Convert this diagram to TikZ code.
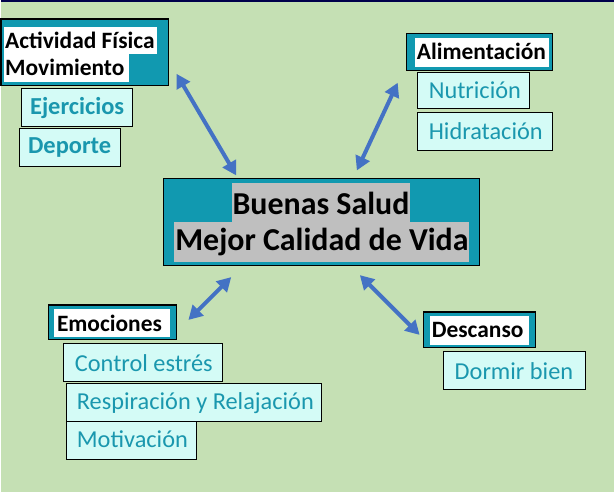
\documentclass[tikz,border=0pt]{standalone}
\usepackage{fontspec}
\setmainfont{Carlito}
\usetikzlibrary{arrows.meta}
\definecolor{bg}{HTML}{C5E0B4}
\definecolor{teal1}{HTML}{1199B0}
\definecolor{cyan1}{HTML}{D4FBF6}
\definecolor{tx}{HTML}{1A97AE}
\definecolor{arr}{HTML}{4472C4}
\definecolor{hl}{HTML}{BFBFBF}
\begin{document}
\begin{tikzpicture}[x=1pt,y=-1pt,
 tealbox/.style={draw=black,line width=1.2pt,fill=teal1},
 subbox/.style={draw=black,line width=0.8pt,fill=cyan1},
 lab/.style={font=\fontsize{23.5}{23.5}\selectfont\bfseries,text=black,anchor=west,inner sep=0pt},
 sub/.style={font=\fontsize{24.4}{24.4}\selectfont,text=tx,anchor=west,inner sep=0pt},
 subb/.style={font=\fontsize{24.5}{24.5}\selectfont\bfseries,text=tx,anchor=west,inner sep=0pt},
 big/.style={font=\fontsize{32}{32}\selectfont\bfseries,text=black,inner sep=0pt},
 dbl/.style={{Triangle[length=14pt,width=15pt]}-{Triangle[length=14pt,width=15pt]},line width=4pt,draw=arr}]
\fill[bg] (0,0) rectangle (615,493);
\draw[line width=2pt,black!70!blue] (0,0) -- (615,0);
% Actividad
\draw[tealbox] (0,18) rectangle (168,85);
\fill[white] (3,26) rectangle (157,53);
\fill[white] (3,53) rectangle (128,81);
\node[lab] (act1) at (4,39) {Actividad Física};
\node[lab] (act2) at (4,67) {Movimiento};
\draw[subbox] (20,88) rectangle (132,126); \node[subb] (ej) at (29,107) {Ejercicios};
\draw[subbox] (18,128) rectangle (120,166); \node[subb] (dep) at (27,147) {Deporte};
% Alimentacion
\draw[tealbox] (407,33) rectangle (553,70);
\fill[white] (415,37) rectangle (550,66);
\node[lab] (ali) at (417,51) {Alimentación};
\draw[subbox] (418,72) rectangle (530,108); \node[sub] (nut) at (429,90) {Nutrición};
\draw[subbox] (418,112) rectangle (553,150); \node[sub] (hid) at (429,131) {Hidratación};
% Center
\draw[tealbox] (163,178) rectangle (480,265);
\fill[hl] (232,183) rectangle (410,222);
\fill[hl] (174,222) rectangle (470,262);
\node[big] (c1) at (321,203) {Buenas Salud};
\node[big] (c2) at (322,242) {Mejor Calidad de Vida};
% Emociones
\draw[tealbox] (48,305) rectangle (176,340);
\fill[white] (53,309) rectangle (170,337);
\node[lab] (emo) at (56,323) {Emociones};
\draw[subbox] (63,344) rectangle (222,382); \node[sub] (ctl) at (74,363) {Control estrés};
\draw[subbox] (66,384) rectangle (321,422); \node[sub] (res) at (76,403) {Respiración y Relajación};
\draw[subbox] (66,422) rectangle (196,460); \node[sub] (mot) at (76,440) {Motivación};
% Descanso
\draw[tealbox] (424,312) rectangle (536,348);
\fill[white] (430,316) rectangle (530,345);
\node[lab] (des) at (432,330) {Descanso};
\draw[subbox] (444,352) rectangle (586,390); \node[sub] (dor) at (455,371) {Dormir bien};
% arrows
\coordinate (a1) at (176,73); \coordinate (a2) at (236,175);
\coordinate (b1) at (398,82); \coordinate (b2) at (357,170);
\coordinate (e1) at (231,277); \coordinate (e2) at (188,320);
\coordinate (d1) at (360,275); \coordinate (d2) at (420,335);
\draw[dbl] (a1) -- (a2);
\draw[dbl] (b1) -- (b2);
\draw[dbl] (e1) -- (e2);
\draw[dbl] (d1) -- (d2);
\end{tikzpicture}
\end{document}
